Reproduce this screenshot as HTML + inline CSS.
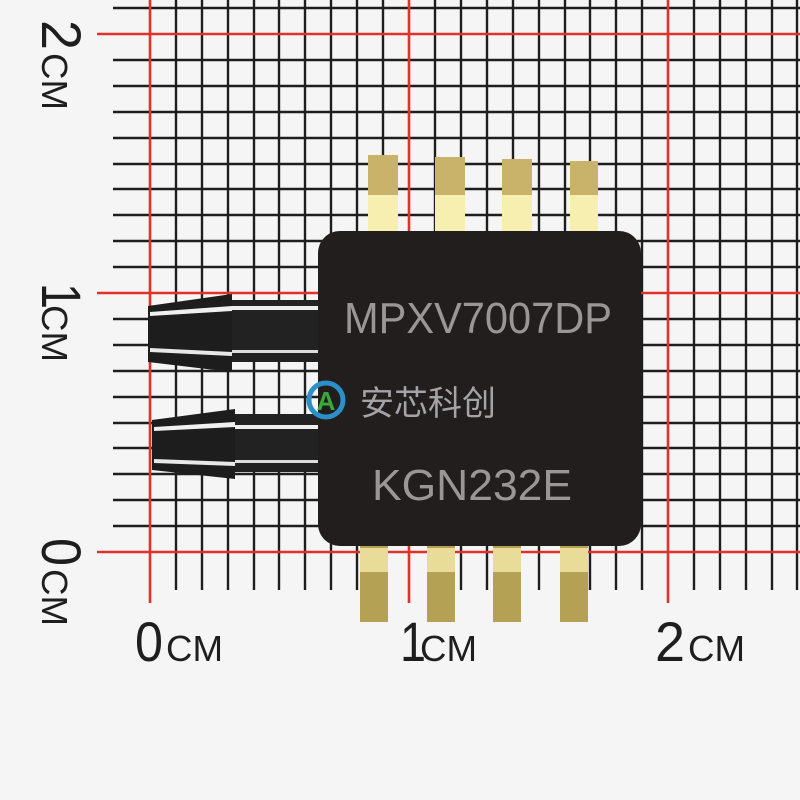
<!DOCTYPE html>
<html><head><meta charset="utf-8"><style>html,body{margin:0;padding:0;background:#f5f5f5}svg{display:block}</style></head>
<body>
<svg width="800" height="800" viewBox="0 0 800 800" xmlns="http://www.w3.org/2000/svg">
<rect width="800" height="800" fill="#f5f5f5"/>
<g stroke="#1e1e1e" stroke-width="2.4">
<path d="M176,0V590M202,0V590M228,0V590M254,0V590M279,0V590M305,0V590M331,0V590M357,0V590M383,0V590M435,0V590M461,0V590M487,0V590M513,0V590M539,0V590M565,0V590M590,0V590M616,0V590M642,0V590M694,0V590M720,0V590M746,0V590M772,0V590M797,0V590"/>
<path d="M113,526H800M113,500H800M113,474H800M113,448H800M113,423H800M113,397H800M113,371H800M113,345H800M113,319H800M113,267H800M113,241H800M113,215H800M113,189H800M113,164H800M113,138H800M113,112H800M113,86H800M113,60H800M113,8H800"/>
</g>
<g stroke="#e0322a" stroke-width="2.6">
<path d="M150,0V603M409,0V603M668,0V603M97,552H800M97,293H800M97,34H800"/>
</g>
<g>
<rect x="232" y="300" width="88" height="62" fill="#222"/>
<rect x="232" y="306" width="88" height="4" fill="#eee"/>
<rect x="232" y="350" width="88" height="3" fill="#ddd"/>
<polygon points="148,306 232,294 232,372 148,362" fill="#1d1d1d"/>
<polygon points="150,312 232,306 232,311 150,316" fill="#f0f0f0"/>
<polygon points="150,348 232,352 232,356 150,352" fill="#e8e8e8"/>
<rect x="235" y="414" width="85" height="58" fill="#222"/>
<rect x="235" y="425" width="85" height="4" fill="#eee"/>
<rect x="235" y="460" width="85" height="3" fill="#ddd"/>
<polygon points="152,420 235,409 235,479 152,470" fill="#1d1d1d"/>
<polygon points="154,427 235,422 235,427 154,431" fill="#f0f0f0"/>
<polygon points="154,459 235,462 235,466 154,463" fill="#e8e8e8"/>
</g>
<g>
<rect x="368" y="155" width="30" height="80" fill="#c9b36a"/><rect x="368" y="195" width="30" height="38" fill="#f6efb0"/>
<rect x="435" y="157" width="30" height="78" fill="#c9b36a"/><rect x="435" y="195" width="30" height="38" fill="#f6efb0"/>
<rect x="502" y="159" width="30" height="76" fill="#c9b36a"/><rect x="502" y="195" width="30" height="38" fill="#f6efb0"/>
<rect x="570" y="161" width="28" height="74" fill="#c9b36a"/><rect x="570" y="195" width="28" height="38" fill="#f6efb0"/>
</g>
<g>
<rect x="360" y="540" width="28" height="82" fill="#b5a153"/><rect x="360" y="548" width="28" height="24" fill="#e9dc98"/>
<rect x="427" y="540" width="28" height="82" fill="#b5a153"/><rect x="427" y="548" width="28" height="24" fill="#e9dc98"/>
<rect x="493" y="540" width="28" height="82" fill="#b5a153"/><rect x="493" y="548" width="28" height="24" fill="#e9dc98"/>
<rect x="560" y="540" width="28" height="82" fill="#b5a153"/><rect x="560" y="548" width="28" height="24" fill="#e9dc98"/>
</g>
<rect x="318" y="231" width="323" height="315" rx="22" fill="#221e1e"/>
<text x="344" y="333" font-family="'Liberation Sans Narrow', 'Liberation Sans', sans-serif" font-size="44" fill="#9a9696" textLength="268" lengthAdjust="spacingAndGlyphs">MPXV7007DP</text>
<text x="372" y="500" font-family="'Liberation Sans Narrow', 'Liberation Sans', sans-serif" font-size="44" fill="#9a9696" textLength="200" lengthAdjust="spacingAndGlyphs">KGN232E</text>
<circle cx="326" cy="400" r="17" fill="none" stroke="#2c8fc8" stroke-width="5"/>
<text x="326" y="410" font-family="Liberation Sans, sans-serif" font-size="26" font-weight="bold" fill="#3aa83a" text-anchor="middle">A</text>
<text x="360" y="415" font-family="Liberation Sans, 'Noto Sans CJK SC', sans-serif" font-size="34" fill="#a4a4a8">安芯科创</text>
<g font-family="Liberation Sans, sans-serif" fill="#1e1e1e">
<text x="135" y="661" font-size="56" textLength="28" lengthAdjust="spacingAndGlyphs">0</text>
<text x="166" y="661" font-size="36" textLength="57" lengthAdjust="spacingAndGlyphs">CM</text>
<text x="400" y="661" font-size="56" textLength="26" lengthAdjust="spacingAndGlyphs">1</text>
<text x="420" y="661" font-size="36" textLength="57" lengthAdjust="spacingAndGlyphs">CM</text>
<text x="655" y="661" font-size="56" textLength="30" lengthAdjust="spacingAndGlyphs">2</text>
<text x="688" y="661" font-size="36" textLength="57" lengthAdjust="spacingAndGlyphs">CM</text>
<g transform="translate(42,20) rotate(90)"><text x="0" y="0" font-size="56" textLength="30" lengthAdjust="spacingAndGlyphs">2</text><text x="33" y="0" font-size="36" textLength="57" lengthAdjust="spacingAndGlyphs">CM</text></g>
<g transform="translate(42,283) rotate(90)"><text x="0" y="0" font-size="56" textLength="26" lengthAdjust="spacingAndGlyphs">1</text><text x="22" y="0" font-size="36" textLength="57" lengthAdjust="spacingAndGlyphs">CM</text></g>
<g transform="translate(42,538) rotate(90)"><text x="0" y="0" font-size="56" textLength="28" lengthAdjust="spacingAndGlyphs">0</text><text x="31" y="0" font-size="36" textLength="57" lengthAdjust="spacingAndGlyphs">CM</text></g>
</g>
</svg>
</body></html>
